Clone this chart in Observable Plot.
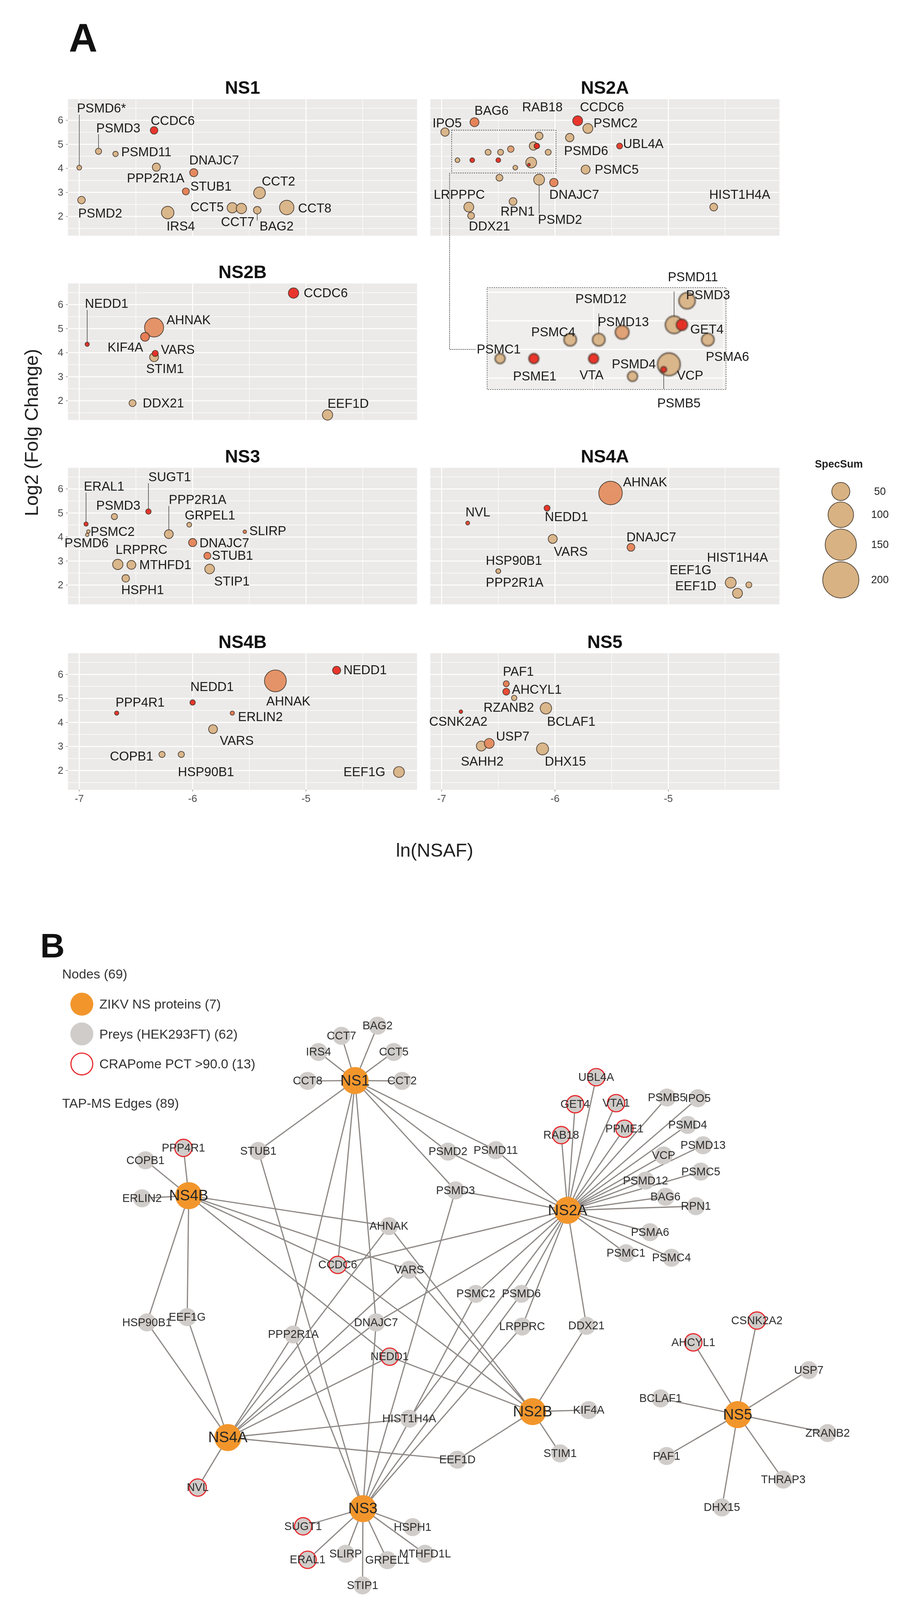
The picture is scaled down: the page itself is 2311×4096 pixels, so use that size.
<!DOCTYPE html>
<html><head><meta charset="utf-8">
<script src="https://cdn.jsdelivr.net/npm/d3@7"></script>
<script src="https://cdn.jsdelivr.net/npm/@observablehq/plot@0.6"></script>
<style>
html,body{margin:0;padding:0;background:#fff;overflow:hidden;}
#stage{position:relative;width:2398px;height:4251px;transform:scale(0.963);transform-origin:0 0;font-family:'Liberation Sans',Arial,Helvetica,sans-serif;color:#222;}
#stage .t{position:absolute;white-space:nowrap;line-height:1;}
.sw{position:absolute;border-radius:50%;box-sizing:border-box;}
</style></head><body><div id="stage"></div>
<script>
// ---------------- Panel A data ----------------
// [gene, ln(NSAF), log2 fold change, SpecSum, CRAPome PCT, label ln(NSAF), label log2FC, leader line]
const NS1 = [
  ["PSMD6*", -7.00, 4.03, 3.5, 80, -7.02, 6.49, 1],
  ["PSMD3", -6.83, 4.71, 5.8, 80, -6.85, 5.67, 1],
  ["PSMD11", -6.68, 4.60, 4.4, 80, -6.63, 4.67, 0],
  ["CCDC6", -6.34, 5.58, 8.7, 100, -6.37, 5.97, 0],
  ["PPP2R1A", -6.32, 4.05, 10, 80, -6.58, 3.59, 0],
  ["DNAJC7", -5.99, 3.82, 10, 89, -6.03, 4.34, 0],
  ["STUB1", -6.06, 3.04, 7.5, 90, -6.02, 3.24, 0],
  ["CCT2", -5.41, 2.98, 20.9, 80, -5.39, 3.46, 0],
  ["PSMD2", -6.98, 2.68, 8.7, 80, -7.01, 2.13, 0],
  ["IRS4", -6.22, 2.16, 23.9, 80, -6.23, 1.58, 0],
  ["CCT5", -5.65, 2.36, 16.3, 80, -6.02, 2.39, 0],
  ["CCT7", -5.57, 2.33, 16.3, 80, -5.75, 1.77, 0],
  ["BAG2", -5.43, 2.26, 8.7, 80, -5.41, 1.58, 1],
  ["CCT8", -5.17, 2.37, 32, 80, -5.07, 2.33, 0]
];
const NS2A = [
  ["IPO5", -6.97, 5.51, 10.7, 80, -7.08, 5.87, 0],
  ["BAG6", -6.71, 5.92, 12.3, 90, -6.71, 6.39, 0],
  ["RAB18", -6.16, 4.93, 4.4, 99, -6.29, 6.55, 0],
  ["CCDC6", -5.80, 5.98, 15, 100, -5.78, 6.55, 0],
  ["PSMC2", -5.71, 5.66, 15, 80, -5.66, 5.87, 0],
  ["PSMD6", -5.87, 5.28, 10.7, 80, -5.92, 4.73, 0],
  ["UBL4A", -5.43, 4.93, 5.4, 99, -5.40, 5.02, 0],
  ["PSMC5", -5.73, 3.95, 12.3, 80, -5.65, 3.95, 0],
  ["", -6.49, 3.61, 7.2, 80, -6.49, 3.61, 0],
  ["PSMD2", -6.14, 3.53, 18, 80, -6.15, 1.87, 1],
  ["DNAJC7", -6.01, 3.41, 10.7, 89, -6.05, 2.91, 0],
  ["RPN1", -6.37, 2.62, 9.2, 80, -6.48, 2.20, 0],
  ["LRPPPC", -6.76, 2.39, 15, 80, -7.07, 2.91, 0],
  ["DDX21", -6.74, 2.03, 7.2, 80, -6.76, 1.58, 0],
  ["HIST1H4A", -4.60, 2.39, 9.2, 80, -4.64, 2.91, 0]
];
// points inside the dashed box, labelled in the magnified inset
const NS2A_BOX = [
  ["PSMC1", -6.86, 4.34, 3.4, 80, -6.95, 4.50, 0],
  ["PSME1", -6.73, 4.34, 3.4, 100, -6.81, 4.03, 0],
  ["PSMC4", -6.59, 4.67, 5.4, 80, -6.74, 4.80, 0],
  ["VTA", -6.50, 4.34, 3.4, 100, -6.554, 4.05, 0],
  ["PSMD12", -6.48, 4.67, 5.4, 80, -6.57, 5.38, 1],
  ["PSMD13", -6.39, 4.80, 6.5, 84, -6.484, 4.98, 0],
  ["PSMD4", -6.35, 4.03, 3.4, 80, -6.43, 4.24, 0],
  ["VCP", -6.21, 4.24, 18, 80, -6.179, 4.04, 0],
  ["PSMB5", -6.23, 4.15, 1.2, 100, -6.255, 3.56, 1],
  ["PSMD11", -6.19, 4.93, 10.7, 80, -6.214, 5.76, 1],
  ["GET4", -6.16, 4.93, 4.4, 100, -6.128, 4.85, 0],
  ["PSMD3", -6.14, 5.35, 9.2, 80, -6.144, 5.45, 0],
  ["PSMA6", -6.06, 4.67, 5.4, 80, -6.068, 4.37, 0]
];
const INSET_X = [-6.91, -5.99];
const INSET_Y = [3.80, 5.58];
const NS2B = [
  ["CCDC6", -5.11, 6.48, 16.3, 100, -5.02, 6.48, 0],
  ["NEDD1", -6.93, 4.35, 2.7, 100, -6.95, 6.03, 1],
  ["AHNAK", -6.34, 5.05, 56, 87, -6.23, 5.36, 0],
  ["KIF4A", -6.42, 4.66, 12, 91, -6.75, 4.22, 0],
  ["STIM1", -6.34, 3.81, 12, 80, -6.41, 3.32, 0],
  ["VARS", -6.33, 3.97, 5.8, 100, -6.28, 4.12, 0],
  ["DDX21", -6.53, 1.90, 7.5, 80, -6.44, 1.90, 0],
  ["EEF1D", -4.81, 1.41, 16.3, 80, -4.81, 1.88, 0]
];
const NS3 = [
  ["ERAL1", -6.94, 4.54, 2.7, 100, -6.96, 6.10, 1],
  ["SUGT1", -6.39, 5.06, 4.4, 100, -6.39, 6.49, 1],
  ["PSMD3", -6.69, 4.85, 5.8, 80, -6.85, 5.30, 0],
  ["PPP2R1A", -6.21, 4.12, 12, 80, -6.21, 5.54, 1],
  ["GRPEL1", -6.03, 4.51, 3.5, 80, -6.07, 4.89, 0],
  ["SLIRP", -5.54, 4.22, 1.8, 90, -5.50, 4.25, 0],
  ["PSMC2", -6.92, 4.23, 1.8, 80, -6.90, 4.22, 0],
  ["PSMD6", -6.93, 4.09, 1.8, 80, -7.13, 3.75, 0],
  ["DNAJC7", -6.00, 3.77, 10, 89, -5.94, 3.75, 0],
  ["STUB1", -5.87, 3.22, 7.5, 90, -5.83, 3.22, 0],
  ["LRPPRC", -6.66, 2.86, 16.3, 80, -6.68, 3.47, 0],
  ["MTHFD1", -6.54, 2.84, 12, 80, -6.47, 2.84, 0],
  ["STIP1", -5.85, 2.67, 14.4, 80, -5.81, 2.15, 0],
  ["HSPH1", -6.59, 2.28, 8.7, 80, -6.63, 1.80, 0]
];
const NS4A = [
  ["AHNAK", -5.51, 5.83, 85, 87, -5.40, 6.28, 0],
  ["NEDD1", -6.07, 5.20, 5.4, 100, -6.09, 4.84, 0],
  ["NVL", -6.77, 4.58, 2.3, 98, -6.79, 5.02, 0],
  ["VARS", -6.02, 3.92, 12.3, 80, -6.01, 3.39, 0],
  ["DNAJC7", -5.33, 3.57, 9.2, 89, -5.37, 3.99, 0],
  ["HSP90B1", -6.50, 2.58, 3.4, 80, -6.61, 3.01, 0],
  ["PPP2R1A", -6.50, 2.58, 3.4, 80, -6.61, 2.10, 0],
  ["HIST1H4A", -4.29, 2.01, 5.4, 80, -4.66, 3.14, 0],
  ["EEF1G", -4.45, 2.10, 18, 80, -4.99, 2.62, 0],
  ["EEF1D", -4.39, 1.66, 15, 80, -4.94, 1.95, 0]
];
const NS4B = [
  ["NEDD1", -4.73, 6.17, 10, 100, -4.67, 6.17, 0],
  ["AHNAK", -5.27, 5.73, 73, 87, -5.35, 4.88, 0],
  ["NEDD1", -6.00, 4.83, 4.4, 100, -6.02, 5.48, 0],
  ["PPP4R1", -6.67, 4.39, 2.7, 100, -6.68, 4.83, 0],
  ["ERLIN2", -5.65, 4.39, 2.7, 91, -5.60, 4.22, 0],
  ["VARS", -5.82, 3.72, 12, 80, -5.76, 3.24, 0],
  ["COPB1", -6.27, 2.67, 5.8, 80, -6.73, 2.58, 0],
  ["HSP90B1", -6.10, 2.67, 5.8, 80, -6.13, 1.94, 0],
  ["EEF1G", -4.18, 1.94, 18, 80, -4.67, 1.94, 0]
];
const NS5 = [
  ["PAF1", -6.43, 5.61, 5.4, 90, -6.46, 6.12, 0],
  ["AHCYL1", -6.43, 5.28, 7.2, 98, -6.38, 5.37, 0],
  ["RZANB2", -6.36, 5.02, 4.4, 80, -6.63, 4.62, 0],
  ["BCLAF1", -6.08, 4.59, 20, 80, -6.07, 4.04, 0],
  ["CSNK2A2", -6.83, 4.45, 1.9, 100, -7.11, 4.04, 0],
  ["SAHH2", -6.65, 3.02, 15, 80, -6.83, 2.37, 0],
  ["USP7", -6.58, 3.13, 15, 88, -6.52, 3.41, 0],
  ["DHX15", -6.11, 2.90, 22, 80, -6.09, 2.37, 0]
];
const X_MAJOR = [-7, -6, -5];
const X_MINOR = [-6.5, -5.5, -4.5];
const Y_MAJOR = [2, 3, 4, 5, 6];
const Y_MINOR = [1.5, 2.5, 3.5, 4.5, 5.5, 6.5];
const SIZE_BREAKS = [50, 100, 150, 200];
const PCT_BREAKS = [80, 90, 100];

// ---------------- Panel B data ----------------
const BAITS = [["NS1",943,2872],["NS2A",1508,3217],["NS2B",1415,3752],["NS3",964,4010],["NS4A",605,3821],["NS4B",501,3178],["NS5",1960,3760]];
// [name, layout x, layout y, CRAPome PCT > 90]
const PREYS = [
  ["CCT8",817,2873,0],["CCT2",1068,2873,0],["IRS4",846,2796,0],["CCT5",1046,2796,0],["CCT7",907,2753,0],["BAG2",1003,2726,0],
  ["STUB1",686,3059,0],["PPP4R1",487,3051,1],["COPB1",386,3084,0],["ERLIN2",377,3185,0],
  ["PSMD2",1190,3061,0],["PSMD11",1317,3057,0],["PSMD3",1210,3164,0],
  ["UBL4A",1584,2863,1],["GET4",1528,2935,1],["VTA1",1637,2932,1],["PSMB5",1772,2917,0],["IPO5",1854,2919,0],
  ["RAB18",1491,3017,1],["PPME1",1659,3000,1],["PSMD4",1827,2990,0],["PSMD13",1868,3044,0],["VCP",1763,3071,0],
  ["PSMC5",1862,3114,0],["PSMD12",1715,3138,0],["BAG6",1768,3181,0],["RPN1",1849,3206,0],["PSMA6",1727,3275,0],
  ["PSMC1",1663,3331,0],["PSMC4",1784,3343,0],["PSMC2",1264,3439,0],["PSMD6",1385,3439,0],["LRPPRC",1387,3526,0],
  ["DDX21",1558,3524,0],["KIF4A",1564,3748,0],["STIM1",1488,3863,0],["EEF1D",1215,3880,0],
  ["AHNAK",1033,3259,0],["CCDC6",897,3362,1],["VARS",1087,3375,0],["HSP90B1",390,3515,0],["EEF1G",497,3501,0],
  ["PPP2R1A",779,3547,0],["DNAJC7",999,3515,0],["NEDD1",1035,3606,1],["HIST1H4A",1087,3771,0],["NVL",525,3954,1],
  ["SUGT1",805,4057,1],["HSPH1",1096,4059,0],["ERAL1",817,4146,1],["SLIRP",918,4130,0],["GRPEL1",1029,4147,0],
  ["MTHFD1L",1129,4130,0],["STIP1",963,4214,0],
  ["CSNK2A2",2011,3510,1],["AHCYL1",1842,3568,1],["USP7",2149,3642,0],["BCLAF1",1755,3717,0],["ZRANB2",2199,3809,0],
  ["PAF1",1771,3870,0],["THRAP3",2081,3933,0],["DHX15",1918,4007,0]
];
const EDGES_NS1 = ["CCT8","CCT7","IRS4","BAG2","CCT5","CCT2","STUB1","PSMD2","PSMD11","PSMD3","CCDC6","PPP2R1A","DNAJC7"];
const EDGES_NS2A = ["UBL4A","GET4","VTA1","RAB18","PPME1","PSMB5","IPO5","PSMD4","PSMD13","VCP","PSMC5","PSMD12","BAG6","RPN1","PSMA6","PSMC1","PSMC4","PSMD2","PSMD11","PSMD3","PSMC2","PSMD6","LRPPRC","DDX21","CCDC6","DNAJC7","HIST1H4A"];
const EDGES_NS2B = ["KIF4A","STIM1","CCDC6","NEDD1","AHNAK","VARS","DDX21","EEF1D"];
const EDGES_NS3 = ["SUGT1","ERAL1","SLIRP","GRPEL1","MTHFD1L","HSPH1","STIP1","PSMD3","PPP2R1A","PSMC2","PSMD6","DNAJC7","STUB1","LRPPRC"];
const EDGES_NS4A = ["NVL","AHNAK","NEDD1","VARS","DNAJC7","HSP90B1","PPP2R1A","HIST1H4A","EEF1G","EEF1D"];
const EDGES_NS4B = ["PPP4R1","COPB1","ERLIN2","NEDD1","AHNAK","VARS","HSP90B1","EEF1G","CCDC6"];
const EDGES_NS5 = ["CSNK2A2","AHCYL1","USP7","ZRANB2","THRAP3","DHX15","PAF1","BCLAF1"];
const LEGEND_B = ["ZIKV NS proteins (7)", "Preys (HEK293FT) (62)", "CRAPome PCT >90.0 (13)"];

// ---------------- styles & layout ----------------
const FONT = "'Liberation Sans', Arial, Helvetica, sans-serif";
const TAN = "#D8B283", RED = "#E8281E";
const PANEL_BG = "#EBEAE9";
const X_DOMAIN = [-7.1, -4.02], Y_DOMAIN = [1.2, 6.88];
const PW = 928, PH = 363;
const COLS = [180, 1143], ROWS = [263, 753, 1243, 1736];
const LABEL_SIZE = 34;
const R_OPTS = {type: "sqrt", domain: [0, 200], range: [0, 48]};
const COLOR_OPTS = {type: "linear", domain: [80, 100], range: [TAN, RED], interpolate: d3.interpolateLab, clamp: true};
const STYLE = {background: "transparent", overflow: "visible", fontFamily: FONT, maxWidth: "none"};

const stage = document.getElementById("stage");
function place(el, left, top) { el.style.position = "absolute"; el.style.left = left + "px"; el.style.top = top + "px"; stage.appendChild(el); return el; }
function text(str, {x, base, size, weight = "normal", anchor = "start", color = "#222", rotate = 0}) {
  const d = document.createElement("div");
  d.className = "t"; d.textContent = str;
  d.style.fontSize = size + "px"; d.style.fontWeight = weight; d.style.color = color;
  let tx = anchor === "middle" ? "-50%" : anchor === "end" ? "-100%" : "0";
  if (rotate) {
    d.style.transform = `translate(-50%,-50%) rotate(${rotate}deg)`;
    place(d, x, base);
  } else {
    d.style.transform = `translateX(${tx})`;
    place(d, x, base - 0.8465 * size);
  }
  return d;
}
const toObj = r => ({gene: r[0], x: r[1], y: r[2], spec: r[3], crap: r[4], lx: r[5], ly: r[6], lead: !!r[7]});
const leaderEnd = d => d.ly - Math.sign(d.ly - d.y) * 0.25;

const ML = 80, MR = 20, MT = 80, MB = 70;
function facet(name, rows, col, row, extraRows = [], extraMarks = []) {
  const pts = rows.map(toObj).concat(extraRows.map(toObj));
  const lab = rows.map(toObj).filter(d => d.gene);
  const p = Plot.plot({
    width: ML + PW + MR, height: MT + PH + MB,
    marginLeft: ML, marginRight: MR, marginTop: MT, marginBottom: MB,
    x: {domain: X_DOMAIN, axis: null}, y: {domain: Y_DOMAIN, axis: null},
    r: R_OPTS, color: COLOR_OPTS, style: STYLE,
    marks: [
      Plot.frame({fill: PANEL_BG, stroke: null}),
      Plot.ruleX(X_MINOR, {stroke: "#fff", strokeWidth: 1.3}),
      Plot.ruleX(X_MAJOR, {stroke: "#fff", strokeWidth: 2.6}),
      Plot.ruleY(Y_MINOR, {stroke: "#fff", strokeWidth: 1.3}),
      Plot.ruleY(Y_MAJOR, {stroke: "#fff", strokeWidth: 2.6}),
      col === 0 ? Plot.axisY(Y_MAJOR, {tickSize: 5, tickPadding: 7, fontSize: 27, color: "#4a4a4a", label: null, tickFormat: d => String(d)}) : null,
      row === 3 ? Plot.axisX(X_MAJOR, {tickSize: 5, tickPadding: 8, fontSize: 27, color: "#4a4a4a", label: null, tickFormat: d => String(d)}) : null,
      Plot.text([name], {text: d => d, frameAnchor: "top", dy: -14, lineAnchor: "bottom", fontSize: 48, fontWeight: "bold", fill: "#111"}),
      ...extraMarks,
      Plot.link(lab.filter(d => d.lead), {x1: "x", y1: "y", x2: "x", y2: leaderEnd, stroke: "#333", strokeWidth: 1.4}),
      Plot.dot(pts, {x: "x", y: "y", r: "spec", fill: "crap", stroke: "#3f3428", strokeOpacity: 0.85, strokeWidth: 2, fillOpacity: 0.93}),
      Plot.text(lab, {x: "lx", y: "ly", text: "gene", textAnchor: "start", fontSize: LABEL_SIZE, fill: "#1b1b1b"})
    ]
  });
  const left = COLS[col] - ML, top = ROWS[row] - MT;
  place(p, left, top);
  return {p, left, top};
}

facet("NS1", NS1, 0, 0);
const f2a = facet("NS2A", NS2A, 1, 0, NS2A_BOX, [
  Plot.rect([0], {x1: () => INSET_X[0], x2: () => INSET_X[1], y1: () => INSET_Y[0], y2: () => INSET_Y[1], fill: "none", stroke: "#333", strokeWidth: 1.6, strokeDasharray: "3,3"})
]);
facet("NS2B", NS2B, 0, 1);
facet("NS3", NS3, 0, 2);
facet("NS4A", NS4A, 1, 2);
facet("NS4B", NS4B, 0, 3);
facet("NS5", NS5, 1, 3);

// ---------------- inset (magnified box of NS2A) ----------------
const IW = 635, IH = 271, IML = 120, IMR = 110, IMT = 70, IMB = 70;
const INSET_LEFT = 1294 - IML, INSET_TOP = 764 - IMT;
const boxPts = NS2A_BOX.map(toObj);
const inDom = (v, dom) => v > Math.min(...dom) && v < Math.max(...dom);
const inset = Plot.plot({
  width: IML + IW + IMR, height: IMT + IH + IMB,
  marginLeft: IML, marginRight: IMR, marginTop: IMT, marginBottom: IMB,
  x: {domain: INSET_X, axis: null}, y: {domain: INSET_Y, axis: null},
  r: {type: "sqrt", domain: [0, 200], range: [0, 100]}, color: COLOR_OPTS, style: STYLE,
  marks: [
    Plot.frame({fill: "#EFEEED", stroke: null}),
    Plot.ruleY(Y_MAJOR.concat(Y_MINOR).filter(v => inDom(v, INSET_Y)), {stroke: "#fff", strokeWidth: 3}),
    Plot.ruleX(X_MAJOR.concat(X_MINOR).filter(v => inDom(v, INSET_X)), {stroke: "#fff", strokeWidth: 2}),
    Plot.frame({stroke: "#444", strokeWidth: 1.6, strokeDasharray: "3,3"}),
    Plot.link(boxPts.filter(d => d.lead), {x1: "x", y1: "y", x2: "x", y2: leaderEnd, stroke: "#333", strokeWidth: 1.4}),
    Plot.dot(boxPts, {x: "x", y: "y", r: "spec", fill: "crap", stroke: "#3a2e22", strokeOpacity: 0.75, strokeWidth: 4, fillOpacity: 0.93}),
    Plot.text(boxPts, {x: "lx", y: "ly", text: "gene", textAnchor: "start", fontSize: LABEL_SIZE, fill: "#1b1b1b"})
  ]
});
{
  // soften the magnified points like the reference's enlarged raster
  const svg = d3.select(inset);
  svg.insert("defs", ":first-child").append("filter").attr("id", "insetBlur")
    .attr("x", "-30%").attr("y", "-30%").attr("width", "160%").attr("height", "160%")
    .append("feGaussianBlur").attr("stdDeviation", 1.6);
  svg.selectAll('g[aria-label="dot"]').attr("filter", "url(#insetBlur)");
}
place(inset, INSET_LEFT, INSET_TOP);

// connector from the dashed box to the inset (positions taken from both plots' scales)
{
  const bx = f2a.left + f2a.p.scale("x").apply(INSET_X[0]) - 6;
  const by = f2a.top + f2a.p.scale("y").apply(INSET_Y[0]);
  const c1 = boxPts[0];
  const ex = INSET_LEFT + inset.scale("x").apply(c1.lx) - 4;
  const ey = INSET_TOP + inset.scale("y").apply(c1.ly);
  const pts = [{x: bx, y: by}, {x: bx, y: ey}, {x: ex, y: ey}];
  const L = 1100, T = 400, W = 300, H = 600;
  const conn = Plot.plot({
    width: W, height: H, margin: 0,
    x: {domain: [L, L + W], range: [0, W], axis: null}, y: {domain: [T, T + H], range: [0, H], axis: null},
    style: STYLE,
    marks: [Plot.line(pts, {x: "x", y: "y", stroke: "#333", strokeWidth: 1.6, strokeDasharray: "2,3"})]
  });
  place(conn, L, T);
}

// ---------------- Panel A legends ----------------
{
  // SpecSum (size legend)
  const L = 2100, T = 1190, W = 298, H = 420;
  const rS = d3.scaleSqrt().domain(R_OPTS.domain).range(R_OPTS.range);
  let cy = 1306;
  const items = SIZE_BREAKS.map((v, i) => {
    if (i > 0) cy += rS(SIZE_BREAKS[i - 1]) + rS(v) + 4;
    return {v, cy};
  });
  const leg = Plot.plot({
    width: W, height: H, margin: 0,
    x: {domain: [L, L + W], range: [0, W], axis: null}, y: {domain: [T, T + H], range: [0, H], axis: null},
    r: R_OPTS, style: STYLE,
    marks: [
      Plot.text(["SpecSum"], {x: () => 2165, y: () => 1234, text: d => d, textAnchor: "start", fontSize: 28, fontWeight: "bold", fill: "#222"}),
      Plot.dot(items, {x: () => 2234, y: "cy", r: "v", fill: TAN, stroke: "#3f3428", strokeWidth: 2, strokeOpacity: 0.85}),
      Plot.text(items, {x: () => 2338, y: "cy", text: d => String(d.v), fontSize: 28, fill: "#222"})
    ]
  });
  place(leg, L, T);
}
{
  // CRAPome PCT colour bar
  const L = 2100, T = 1720, W = 298, H = 420;
  const slices = d3.range(79.2, 100.5, 0.1);
  const bar = Plot.plot({
    width: W, height: H, margin: 0,
    x: {domain: [L, L + W], range: [0, W], axis: null},
    y: {domain: [80, 100], range: [2091 - T, 1866 - T], axis: null},
    color: COLOR_OPTS, style: STYLE,
    marks: [
      Plot.text(["CRAPome PCT"], {x: () => 2104, y: () => 100 + 112 / 11.25, text: d => d, textAnchor: "start", fontSize: 28, fontWeight: "bold", fill: "#222"}),
      Plot.rect(slices, {x1: () => 2201, x2: () => 2228, y1: d => d, y2: d => d + 0.11, fill: d => d}),
      Plot.tickY(PCT_BREAKS, {x: () => 2201, dx: 3, stroke: "#fff", strokeWidth: 1.5, marker: null}),
      Plot.text(PCT_BREAKS, {x: () => 2258, y: d => d, text: d => String(d), textAnchor: "start", fontSize: 28, fill: "#222"})
    ]
  });
  place(bar, L, T);
}

// Panel A titles / axis titles
text("A", {x: 183, base: 137, size: 105, weight: "bold", color: "#111"});
text("Log2 (Folg Change)", {x: 84, base: 1150, size: 50, rotate: -90, color: "#222"});
text("ln(NSAF)", {x: 1155, base: 2277, size: 50, anchor: "middle", color: "#222"});

// ---------------- Panel B: network ----------------
text("B", {x: 107, base: 2545, size: 90, weight: "bold", color: "#111"});
text("Nodes (69)", {x: 165, base: 2601, size: 35, color: "#333"});
text("TAP-MS Edges (89)", {x: 165, base: 2945, size: 35, color: "#333"});
{
  const sw = [["#F2962C", "none"], ["#D0CCC9", "none"], ["#fff", "#E8262A"]];
  LEGEND_B.forEach((lab, i) => {
    const cy = 2669 + i * 79.5;
    const c = document.createElement("div");
    c.className = "sw";
    c.style.width = "61px"; c.style.height = "61px";
    c.style.background = sw[i][0];
    if (sw[i][1] !== "none") c.style.border = "3.5px solid " + sw[i][1];
    place(c, 217 - 30.5, cy - 30.5);
    text(lab, {x: 264, base: cy + 12, size: 35, color: "#333"});
  });
}
{
  const NET_TOP = 2380, NET_H = 4251 - NET_TOP;
  const pos = new Map();
  const baits = BAITS.map(b => ({name: b[0], x: b[1], y: b[2]}));
  const preys = PREYS.map(p => ({name: p[0], x: p[1], y: p[2], ring: !!p[3]}));
  baits.concat(preys).forEach(n => pos.set(n.name, n));
  const EDGE_SETS = {NS1: EDGES_NS1, NS2A: EDGES_NS2A, NS2B: EDGES_NS2B, NS3: EDGES_NS3, NS4A: EDGES_NS4A, NS4B: EDGES_NS4B, NS5: EDGES_NS5};
  const edges = [];
  for (const [b, list] of Object.entries(EDGE_SETS)) for (const t of list) {
    const a = pos.get(b), c = pos.get(t);
    edges.push({x1: a.x, y1: a.y, x2: c.x, y2: c.y});
  }
  const net = Plot.plot({
    width: 2398, height: NET_H, margin: 0,
    x: {domain: [0, 2398], range: [0, 2398], axis: null},
    y: {domain: [NET_TOP, 4251], range: [0, NET_H], axis: null},
    style: STYLE,
    marks: [
      Plot.link(edges, {x1: "x1", y1: "y1", x2: "x2", y2: "y2", stroke: "#8E8986", strokeWidth: 3.2}),
      Plot.dot(preys, {x: "x", y: "y", r: 24, fill: "#D0CCC9"}),
      Plot.dot(preys.filter(d => d.ring), {x: "x", y: "y", r: 23, fill: "none", stroke: "#E8262A", strokeWidth: 3}),
      Plot.dot(baits, {x: "x", y: "y", r: 36, fill: "#F2962C"}),
      Plot.text(preys, {x: "x", y: "y", text: "name", fontSize: 30, fill: "#2e2e2e"}),
      Plot.text(baits, {x: "x", y: "y", text: "name", fontSize: 40, fill: "#262626"})
    ]
  });
  place(net, 0, NET_TOP);
}
</script></body></html>
